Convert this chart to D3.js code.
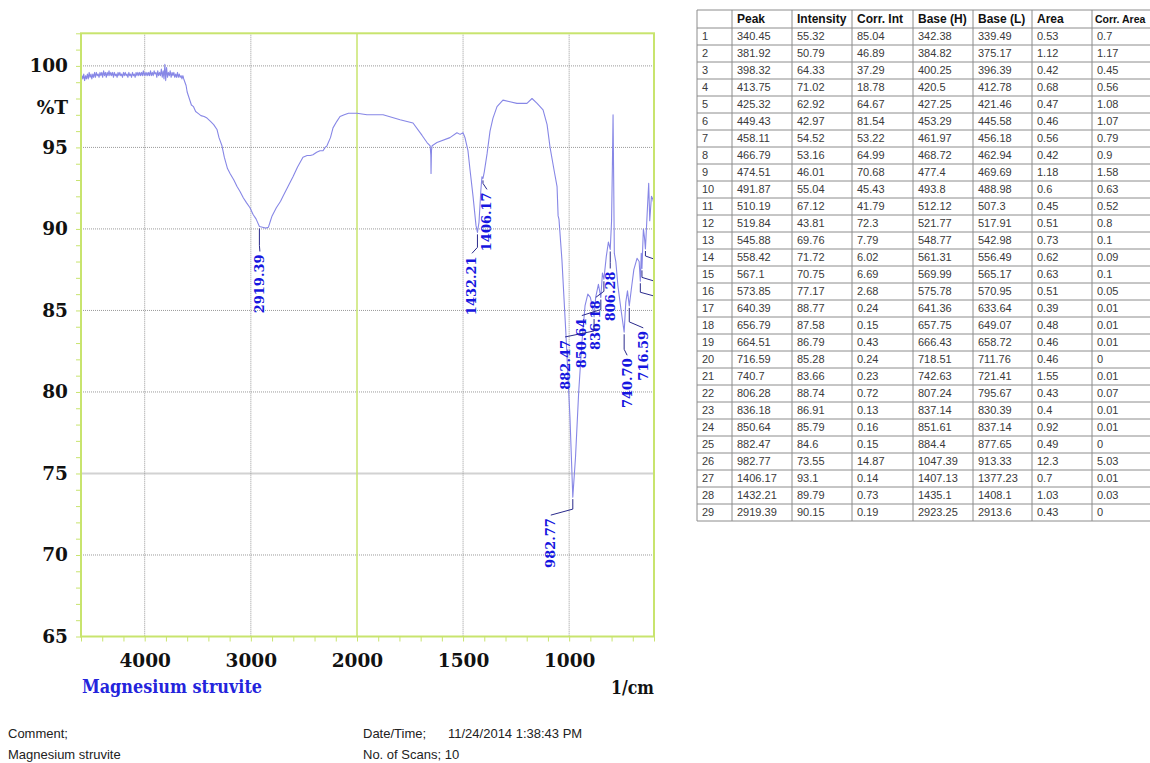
<!DOCTYPE html>
<html>
<head>
<meta charset="utf-8">
<script src="https://cdn.jsdelivr.net/npm/d3@7"></script>
<style>
  body { margin: 0; background: #fff; }
  svg { display: block; }
</style>
</head>
<body>
<svg id="chart" width="1150" height="763"></svg>
<script>
// ---- Peak table (Shimadzu peak pick) ----
const rowNo     = [1,2,3,4,5,6,7,8,9,10,11,12,13,14,15,16,17,18,19,20,21,22,23,24,25,26,27,28,29];
const peaks     = [340.45,381.92,398.32,413.75,425.32,449.43,458.11,466.79,474.51,491.87,510.19,519.84,545.88,558.42,567.1,573.85,640.39,656.79,664.51,716.59,740.7,806.28,836.18,850.64,882.47,982.77,1406.17,1432.21,2919.39];
const intensity = [55.32,50.79,64.33,71.02,62.92,42.97,54.52,53.16,46.01,55.04,67.12,43.81,69.76,71.72,70.75,77.17,88.77,87.58,86.79,85.28,83.66,88.74,86.91,85.79,84.6,73.55,93.1,89.79,90.15];
const corrInt   = [85.04,46.89,37.29,18.78,64.67,81.54,53.22,64.99,70.68,45.43,41.79,72.3,7.79,6.02,6.69,2.68,0.24,0.15,0.43,0.24,0.23,0.72,0.13,0.16,0.15,14.87,0.14,0.73,0.19];
const baseH     = [342.38,384.82,400.25,420.5,427.25,453.29,461.97,468.72,477.4,493.8,512.12,521.77,548.77,561.31,569.99,575.78,641.36,657.75,666.43,718.51,742.63,807.24,837.14,851.61,884.4,1047.39,1407.13,1435.1,2923.25];
const baseL     = [339.49,375.17,396.39,412.78,421.46,445.58,456.18,462.94,469.69,488.98,507.3,517.91,542.98,556.49,565.17,570.95,633.64,649.07,658.72,711.76,721.41,795.67,830.39,837.14,877.65,913.33,1377.23,1408.1,2913.6];
const area      = [0.53,1.12,0.42,0.68,0.47,0.46,0.56,0.42,1.18,0.6,0.45,0.51,0.73,0.62,0.63,0.51,0.39,0.48,0.46,0.46,1.55,0.43,0.4,0.92,0.49,12.3,0.7,1.03,0.43];
const corrArea  = [0.7,1.17,0.45,0.56,1.08,1.07,0.79,0.9,1.58,0.63,0.52,0.8,0.1,0.09,0.1,0.05,0.01,0.01,0.01,0,0.01,0.07,0.01,0.01,0,5.03,0.01,0.03,0];
const tableHeaders = ["", "Peak", "Intensity", "Corr. Int", "Base (H)", "Base (L)", "Area", "Corr. Area"];

// ---- Axis ticks ----
const yTickLabels = [65, 70, 75, 80, 85, 90, 95, 100];
const xTickLabels = [4000, 3000, 2000, 1500, 1000];

// ---- Spectrum: [wavenumber 1/cm, %T] ----
const spectrum = [
  [4600,99.1],[4591,99.4],[4583,99.2],[4574,99.5],[4566,99.1],[4557,99.4],[4549,99.2],[4540,99.5],
  [4532,99.2],[4523,99.6],[4515,99.3],[4506,99.5],[4498,99.2],[4489,99.5],[4481,99.3],[4472,99.6],
  [4464,99.3],[4455,99.6],[4447,99.4],[4438,99.5],[4430,99.3],[4421,99.6],[4413,99.4],[4404,99.6],
  [4396,99.3],[4387,99.7],[4379,99.4],[4370,99.6],[4362,99.3],[4353,99.6],[4345,99.4],[4336,99.7],
  [4328,99.4],[4319,99.6],[4311,99.4],[4302,99.6],[4294,99.3],[4285,99.6],[4277,99.4],[4268,99.5],
  [4260,99.3],[4251,99.6],[4243,99.4],[4234,99.6],[4226,99.4],[4217,99.5],[4209,99.3],[4200,99.6],
  [4192,99.4],[4183,99.6],[4175,99.4],[4166,99.5],[4158,99.3],[4149,99.6],[4141,99.4],[4132,99.5],
  [4124,99.3],[4115,99.6],[4107,99.4],[4098,99.5],[4090,99.3],[4081,99.6],[4073,99.4],[4064,99.6],
  [4056,99.4],[4047,99.6],[4039,99.4],[4030,99.6],[4022,99.4],[4013,99.7],[4005,99.4],[3996,99.6],
  [3988,99.4],[3979,99.6],[3971,99.4],[3962,99.6],[3954,99.4],[3945,99.7],[3937,99.4],[3928,99.6],
  [3920,99.4],[3911,99.7],[3903,99.5],[3894,99.6],[3886,99.3],[3877,99.7],[3869,99.4],[3860,99.6],
  [3852,99.4],[3843,99.8],[3835,99.3],[3826,99.7],[3818,99.2],[3810,100.1],[3802,99.1],[3794,99.9],
  [3785,99.3],[3777,99.6],[3768,99.4],[3760,99.7],[3751,99.3],[3742,99.6],[3734,99.4],[3725,99.6],
  [3717,99.3],[3708,99.5],[3700,99.3],[3691,99.6],[3683,99.3],[3674,99.5],[3666,99.3],[3657,99.4],
  [3649,99.2],[3640,99.4],[3632,99.2],
  [3610,98.8],[3600,98.4],[3580,98.0],[3560,97.6],[3540,97.5],[3520,97.2],[3500,97.1],[3470,96.95],
  [3440,96.9],[3413,96.8],[3380,96.6],[3350,96.4],[3319,96.1],[3300,95.6],[3272,95.1],[3250,94.4],
  [3220,93.7],[3196,93.4],[3160,93.0],[3130,92.6],[3102,92.3],[3070,91.9],[3040,91.6],[3008,91.3],
  [2980,90.9],[2950,90.6],[2919.39,90.15],[2890,90.1],[2860,90.05],[2835,90.1],[2815,90.5],[2800,90.8],
  [2760,91.3],[2720,91.7],[2697,92.0],[2650,92.6],[2603,93.2],[2560,93.8],[2509,94.4],[2470,94.5],
  [2440,94.5],[2415,94.55],[2380,94.7],[2349,94.8],[2320,94.8],[2300,95.0],[2283,95.1],[2250,95.6],
  [2226,96.2],[2190,96.6],[2160,96.9],[2120,97.0],[2080,97.1],[2040,97.1],[2000,97.1],
  [1953,97.0],[1877,97.0],[1797,96.7],[1736,96.5],[1694,95.75],[1670,95.3],[1655,95.1],[1652,94.5],
  [1651,93.4],[1649,94.8],[1646,95.1],[1623,95.3],[1562,95.6],[1529,95.9],[1514,95.8],[1500,95.9],
  [1491,95.6],[1477,94.8],[1467,93.6],[1453,92.0],[1439,90.2],[1432.21,89.79],[1425,90.4],[1416,92.4],
  [1411,93.2],[1406.17,93.1],[1400,93.5],[1387,94.6],[1373,96.0],[1359,96.8],[1340,97.5],[1312,97.9],
  [1279,97.8],[1246,97.7],[1199,97.7],[1175,98.0],[1151,97.7],[1123,97.3],[1104,96.4],[1090,95.0],
  [1071,93.6],[1057,92.6],[1052,90.8],[1048,90.6],[1034,88.1],[1015,83.5],[996,78.4],[982.77,73.55],
  [970,76.0],[955,80.0],[940,83.0],[925,85.3],[912,86.0],[900,85.8],[890,85.2],[882.47,84.6],
  [875,85.8],[862,86.6],[850.64,85.79],[843,87.3],[836.18,86.91],[825,88.3],[815,89.2],[806.28,88.74],
  [800,90.5],[796,94.0],[793,97.0],[790,93.0],[787,88.5],[780,88.0],[770,86.5],[755,85.0],
  [740.7,83.66],[733,85.5],[725,86.2],[716.59,85.28],[705,86.5],[695,87.5],[680,88.2],[670,88.0],
  [664.51,86.79],[660,88.5],[656.79,87.58],[650,90.0],[645,89.5],[640.39,88.77],[632,91.0],[625,92.8],
  [620,90.5],[612,92.0],[605,91.8],[600,91.5]
];

// Pixel offsets of each peak label (label centre / top) from its peak point
const labelOffset = {
  "2919.39": [0.5, 28], "1432.21": [-5.5, 24], "1406.17": [4, 14], "982.77": [-22, 21],
  "882.47": [-29, 23], "850.64": [-19, 21], "836.18": [-8, 21], "806.28": [0, 22],
  "740.70": [3, 26], "716.59": [14, 25], "664.51": [22, 20], "656.79": [20, 18], "640.39": [17, 16]
};

const svg = d3.select("#chart");
const GREEN = "#c8e46e";
const SERIF = "'DejaVu Serif', 'Liberation Serif', serif";

const plot = { left: 81, right: 654, top: 33.3, bottom: 636.5 };

// Split wavenumber axis: coarser scale above 2000 1/cm
const x = d3.scaleLinear().domain([4600, 2000, 600]).range([plot.left, 357, plot.right]);
const y = d3.scaleLinear().domain([65, 102]).range([plot.bottom, plot.top]);

svg.append("defs").append("clipPath").attr("id", "plotClip")
  .append("rect")
  .attr("x", plot.left).attr("y", plot.top)
  .attr("width", plot.right - plot.left).attr("height", plot.bottom - plot.top);

// ---- Grid ----
const grid = svg.append("g");
grid.selectAll("line.hg").data([70, 80, 85, 90, 95, 100]).join("line")
  .attr("x1", plot.left).attr("x2", plot.right)
  .attr("y1", d => y(d)).attr("y2", d => y(d))
  .attr("stroke", "#9a9a9a").attr("stroke-width", 1).attr("stroke-dasharray", "1,1");
grid.append("line")
  .attr("x1", plot.left).attr("x2", plot.right)
  .attr("y1", y(75)).attr("y2", y(75))
  .attr("stroke", "#d2d2d2").attr("stroke-width", 2);
grid.selectAll("line.vg").data([4000, 3000, 1500, 1000]).join("line")
  .attr("x1", d => x(d)).attr("x2", d => x(d))
  .attr("y1", plot.top).attr("y2", plot.bottom)
  .attr("stroke", "#9a9a9a").attr("stroke-width", 1).attr("stroke-dasharray", "1,1");
grid.append("line")
  .attr("x1", x(2000)).attr("x2", x(2000))
  .attr("y1", plot.top).attr("y2", plot.bottom)
  .attr("stroke", GREEN).attr("stroke-width", 1.5);

// ---- Spectrum ----
const inner = svg.append("g").attr("clip-path", "url(#plotClip)");
inner.append("path")
  .datum(spectrum)
  .attr("fill", "none")
  .attr("stroke", "#8787e6")
  .attr("stroke-width", 1.1)
  .attr("stroke-linejoin", "round")
  .attr("d", d3.line().x(d => x(d[0])).y(d => y(d[1])));

// ---- Peak labels with leaders ----
const shown = peaks.map((p, i) => ({ p, t: intensity[i] })).filter(d => d.p >= 600 && d.p <= 4600);
shown.forEach(d => {
  const key = d.p.toFixed(2);
  const off = labelOffset[key] || [0, 22];
  const px = x(d.p), py = y(d.t);
  const lx = px + off[0], ly = py + off[1];
  inner.append("path")
    .attr("fill", "none")
    .attr("stroke", "#2a2a8c")
    .attr("stroke-width", 1)
    .attr("d", `M${px},${py + 2} V${ly - 9} L${lx},${ly - 3}`);
  inner.append("text")
    .attr("transform", `translate(${lx},${ly}) rotate(-90)`)
    .attr("text-anchor", "end")
    .attr("dominant-baseline", "central")
    .attr("font-family", SERIF)
    .attr("font-weight", "bold")
    .attr("font-size", 13)
    .attr("fill", "#1616e0")
    .text(key);
});

// ---- Frame ----
svg.append("rect")
  .attr("x", plot.left).attr("y", plot.top)
  .attr("width", plot.right - plot.left).attr("height", plot.bottom - plot.top)
  .attr("fill", "none").attr("stroke", GREEN).attr("stroke-width", 2);

// ---- Minor ticks ----
const yMinor = svg.append("g").attr("transform", `translate(${plot.left},0)`)
  .call(d3.axisLeft(y).tickValues(d3.range(65, 103, 1)).tickSize(5).tickFormat(""));
yMinor.select(".domain").remove();
yMinor.selectAll("line").attr("stroke", GREEN);

const xMinorVals = d3.range(4600, 2000, -200).concat(d3.range(2000, 599, -100));
const xMinor = svg.append("g").attr("transform", `translate(0,${plot.bottom})`)
  .call(d3.axisBottom(x).tickValues(xMinorVals).tickSize(5).tickFormat(""));
xMinor.select(".domain").remove();
xMinor.selectAll("line").attr("stroke", GREEN);

// ---- Tick labels ----
const yLab = svg.append("g").attr("transform", `translate(${plot.left},0)`)
  .call(d3.axisLeft(y).tickValues(yTickLabels).tickSize(0).tickPadding(13).tickFormat(d3.format("d")));
yLab.select(".domain").remove();
yLab.selectAll("text")
  .attr("font-family", SERIF).attr("font-weight", "bold").attr("font-size", 18.5)
  .attr("fill", "#111");

const xLab = svg.append("g").attr("transform", `translate(0,${plot.bottom})`)
  .call(d3.axisBottom(x).tickValues(xTickLabels).tickSize(0).tickPadding(17).tickFormat(d3.format("d")));
xLab.select(".domain").remove();
xLab.selectAll("text")
  .attr("font-family", SERIF).attr("font-weight", "bold").attr("font-size", 18.5)
  .attr("fill", "#111");

svg.append("text")
  .attr("x", 68).attr("y", 108).attr("dy", "0.35em")
  .attr("text-anchor", "end")
  .attr("font-family", SERIF).attr("font-weight", "bold").attr("font-size", 18.5)
  .attr("fill", "#111").text("%T");

svg.append("text")
  .attr("x", 654).attr("y", 694)
  .attr("text-anchor", "end")
  .attr("font-family", SERIF).attr("font-weight", "bold").attr("font-size", 18.5)
  .attr("textLength", 43).attr("lengthAdjust", "spacingAndGlyphs")
  .attr("fill", "#111").text("1/cm");

svg.append("text")
  .attr("x", 82).attr("y", 693)
  .attr("font-family", SERIF).attr("font-weight", "bold").attr("font-size", 19)
  .attr("textLength", 180).attr("lengthAdjust", "spacingAndGlyphs")
  .attr("fill", "#2424dc").text("Magnesium struvite");

// ---- Footer ----
const SANS = "'Liberation Sans', Arial, sans-serif";
const footer = [
  { x: 8, y: 738, t: "Comment;" },
  { x: 8, y: 759, t: "Magnesium struvite" },
  { x: 363, y: 738, t: "Date/Time;" },
  { x: 448, y: 738, t: "11/24/2014 1:38:43 PM" },
  { x: 363, y: 759, t: "No. of Scans; 10" }
];
svg.append("g").selectAll("text").data(footer).join("text")
  .attr("x", d => d.x).attr("y", d => d.y)
  .attr("font-family", SANS).attr("font-size", 13).attr("fill", "#222")
  .text(d => d.t);

// ---- Peak table ----
const colW = [35, 60, 60, 61, 60, 59, 60, 75];
const colX = colW.reduce((acc, w, i) => { acc.push(acc[i] + w); return acc; }, [697]);
const tableTop = 10, headH = 18, rowH = 17;
const nRows = peaks.length;
const tableBottom = tableTop + headH + nRows * rowH;
const table = svg.append("g").attr("font-family", SANS).attr("font-size", 11);

const rows = rowNo.map((n, i) => [n, peaks[i], intensity[i], corrInt[i], baseH[i], baseL[i], area[i], corrArea[i]]);

// grid lines
table.selectAll("line.h").data(d3.range(nRows + 2)).join("line")
  .attr("x1", colX[0]).attr("x2", colX[colX.length - 1])
  .attr("y1", d => d === 0 ? tableTop : tableTop + headH + (d - 1) * rowH)
  .attr("y2", d => d === 0 ? tableTop : tableTop + headH + (d - 1) * rowH)
  .attr("stroke", "#8c8c8c").attr("stroke-width", 1);
table.selectAll("line.v").data(colX).join("line")
  .attr("x1", d => d).attr("x2", d => d)
  .attr("y1", tableTop).attr("y2", tableBottom)
  .attr("stroke", "#8c8c8c").attr("stroke-width", 1);

// header (last column header set a little smaller so it stays on the page)
const lastCol = tableHeaders.length - 1;
table.selectAll("text.head").data(tableHeaders).join("text")
  .attr("x", (d, i) => colX[i] + (i === lastCol ? 3 : 5))
  .attr("y", tableTop + headH / 2).attr("dy", "0.35em")
  .attr("font-weight", "bold")
  .attr("font-size", (d, i) => i === lastCol ? 10.5 : 12)
  .attr("fill", "#111")
  .text(d => d);

// body
rows.forEach((r, ri) => {
  table.append("g").selectAll("text").data(r).join("text")
    .attr("x", (d, i) => colX[i] + 5)
    .attr("y", tableTop + headH + ri * rowH + rowH / 2).attr("dy", "0.35em")
    .attr("fill", "#3a3a3a")
    .text(d => String(d));
});
</script>
</body>
</html>
